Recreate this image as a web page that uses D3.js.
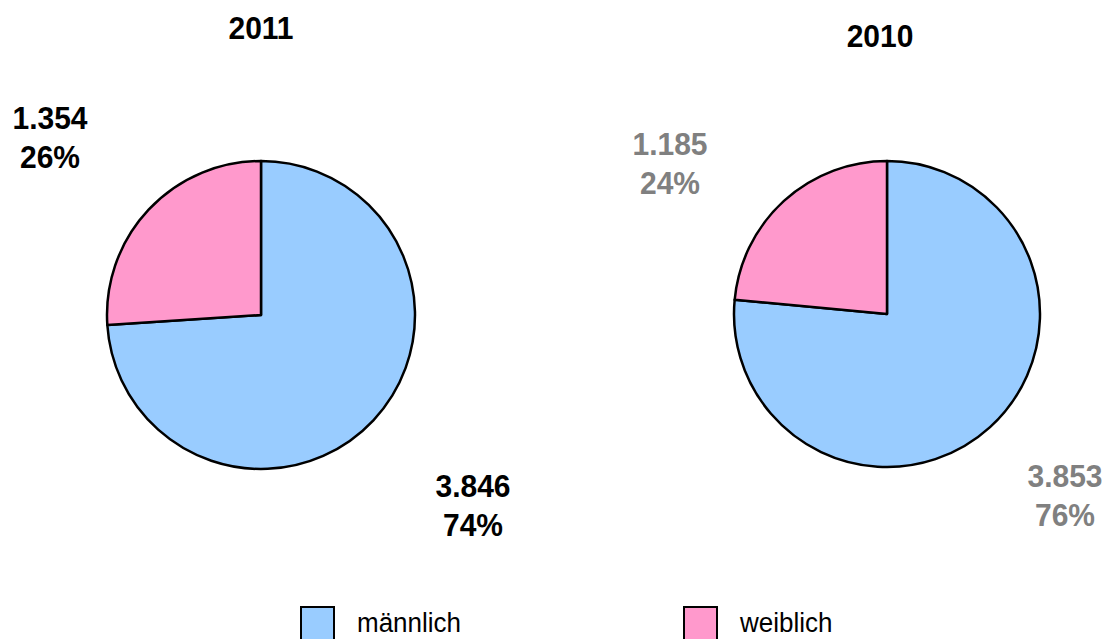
<!DOCTYPE html>
<html>
<head>
  <meta charset="utf-8">
  <title>2011 vs 2010</title>
  <script src="https://d3js.org/d3.v7.min.js"></script>
  <style>
    body { margin: 0; background: #fff; font-family: "Liberation Sans", Arial, sans-serif; }
  </style>
</head>
<body>
<div id="chart"></div>
<script>
  // data
  var years = ["2011", "2010"];
  var categories = ["männlich", "weiblich"];
  var maleValues = [3846, 3853];
  var femaleValues = [1354, 1185];

  var colors = ["#99ccff", "#ff99cc"];
  var labelColors = ["#000000", "#808080"];

  var width = 1108, height = 639;
  var stretch = 1.06; // the original text is a little taller than wide

  var svg = d3.select("#chart").append("svg")
    .attr("width", width)
    .attr("height", height);

  // layout of each pie
  var pies = [
    { cx: 261, cy: 315, r: 154, titleX: 261, titleY: 39,
      lab: [{ x: 473, y: 497 }, { x: 50, y: 129 }] },
    { cx: 887, cy: 314, r: 153, titleX: 880, titleY: 47,
      lab: [{ x: 1065, y: 487 }, { x: 670, y: 155 }] }
  ];

  var pie = d3.pie().sort(null).value(function(d) { return d; });
  var fmt = d3.formatLocale({ decimal: ",", thousands: ".", grouping: [3], currency: ["", "€"] }).format(",d");

  function boldText(x, y, str, color) {
    return svg.append("text")
      .attr("transform", "translate(" + x + "," + y + ") scale(1," + stretch + ")")
      .attr("text-anchor", "middle")
      .style("font-size", "30px")
      .style("font-weight", "bold")
      .attr("fill", color)
      .text(str);
  }

  years.forEach(function(year, i) {
    var p = pies[i];
    var vals = [maleValues[i], femaleValues[i]];
    var total = d3.sum(vals);

    var arc = d3.arc().innerRadius(0).outerRadius(p.r);

    var g = svg.append("g")
      .attr("transform", "translate(" + p.cx + "," + p.cy + ")");

    g.selectAll("path")
      .data(pie(vals))
      .enter()
      .append("path")
      .attr("d", arc)
      .attr("fill", function(d, j) { return colors[j]; })
      .attr("stroke", "#000")
      .attr("stroke-width", 2.5)
      .attr("stroke-linejoin", "round");

    boldText(p.titleX, p.titleY, year, "#000");

    vals.forEach(function(v, j) {
      boldText(p.lab[j].x, p.lab[j].y, fmt(v), labelColors[i]);
      boldText(p.lab[j].x, p.lab[j].y + 39, Math.round(v / total * 100) + "%", labelColors[i]);
    });
  });

  // legend
  var legendX = [301, 684];
  var legend = svg.selectAll(".legend")
    .data(categories)
    .enter()
    .append("g")
    .attr("class", "legend")
    .attr("transform", function(d, i) { return "translate(" + legendX[i] + ",607)"; });

  legend.append("rect")
    .attr("width", 33)
    .attr("height", 40)
    .attr("fill", function(d, i) { return colors[i]; })
    .attr("stroke", "#000")
    .attr("stroke-width", 2);

  legend.append("text")
    .attr("transform", "translate(56,25) scale(1," + stretch + ")")
    .style("font-size", "26px")
    .text(function(d) { return d; });
</script>
</body>
</html>
